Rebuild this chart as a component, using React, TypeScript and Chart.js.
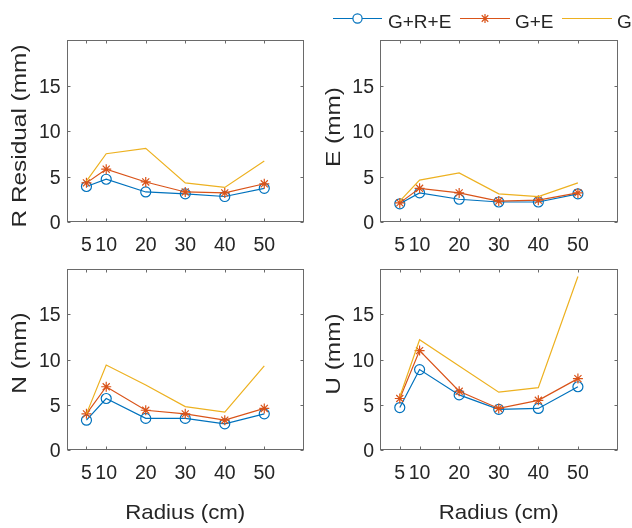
import React, { useEffect, useRef } from "react";
import { Chart, registerables } from "chart.js";

Chart.register(...registerables);

// Radius of each test circle (cm) and the axis ticks
const radius = [5, 10, 20, 30, 40, 50];
const xTicks = [5, 10, 20, 30, 40, 50];
const yTicks = [0, 5, 10, 15];
const seriesNames = ["G+R+E", "G+E", "G"];

// R residual (mm)
const residualGRE = [3.9, 4.7, 3.3, 3.1, 2.8, 3.7];
const residualGE = [4.3, 5.8, 4.4, 3.3, 3.2, 4.2];
const residualG = [4.5, 7.5, 8.1, 4.3, 3.8, 6.7];

// East component (mm)
const eastGRE = [2.0, 3.2, 2.5, 2.2, 2.2, 3.1];
const eastGE = [2.1, 3.7, 3.2, 2.3, 2.4, 3.2];
const eastG = [2.3, 4.6, 5.4, 3.1, 2.8, 4.3];

// North component (mm)
const northGRE = [3.3, 5.7, 3.5, 3.5, 2.9, 4.0];
const northGE = [4.0, 7.0, 4.4, 4.0, 3.3, 4.6];
const northG = [4.0, 9.4, 7.2, 4.8, 4.2, 9.3];

// Up component (mm)
const upGRE = [4.7, 8.9, 6.1, 4.5, 4.6, 7.0];
const upGE = [5.7, 11.0, 6.5, 4.6, 5.5, 7.9];
const upG = [5.9, 12.2, 9.3, 6.4, 6.9, 19.2];

const W = 632;
const H = 528;
const BLUE = "#0072BD";
const ORANGE = "#D95319";
const YELLOW = "#EDB120";
const INK = "#262626";
const FRAME = "#6a6a6a";
const FONT = '"Liberation Sans", Arial, Helvetica, sans-serif';

type Panel = {
  yTitle: string;
  gre: number[];
  ge: number[];
  g: number[];
  area: { l: number; t: number; r: number; b: number };
  titleX: number;
  titleY: number;
  xTitle: boolean;
  legend: boolean;
};

const panels: Panel[] = [
  { yTitle: "R Residual (mm)", gre: residualGRE, ge: residualGE, g: residualG,
    area: { l: 66.7, t: 40, r: 303.8, b: 222 }, titleX: 26, titleY: 136, xTitle: false, legend: false },
  { yTitle: "E (mm)", gre: eastGRE, ge: eastGE, g: eastG,
    area: { l: 380, t: 40, r: 617.5, b: 222 }, titleX: 339.5, titleY: 127, xTitle: false, legend: true },
  { yTitle: "N (mm)", gre: northGRE, ge: northGE, g: northG,
    area: { l: 66.7, t: 269.3, r: 303.8, b: 450 }, titleX: 25.5, titleY: 353, xTitle: true, legend: false },
  { yTitle: "U (mm)", gre: upGRE, ge: upGE, g: upG,
    area: { l: 380, t: 269.3, r: 617.5, b: 450 }, titleX: 339.5, titleY: 354, xTitle: true, legend: false },
];

function drawText(ctx: CanvasRenderingContext2D, text: string, x: number, y: number,
                  size: number, sx: number, rot: number, align: CanvasTextAlign) {
  ctx.save();
  ctx.translate(x, y);
  ctx.rotate(rot);
  ctx.scale(sx, 1);
  ctx.font = `${size}px ${FONT}`;
  ctx.fillStyle = INK;
  ctx.textAlign = align;
  ctx.textBaseline = "alphabetic";
  ctx.fillText(text, 0, 0);
  ctx.restore();
}

function drawStar(ctx: CanvasRenderingContext2D, x: number, y: number, r: number) {
  ctx.beginPath();
  for (let i = 0; i < 4; i++) {
    const a = (i * Math.PI) / 4;
    ctx.moveTo(x - r * Math.cos(a), y - r * Math.sin(a));
    ctx.lineTo(x + r * Math.cos(a), y + r * Math.sin(a));
  }
  ctx.stroke();
}

// Box, inward ticks, tick labels, axis titles and the shared legend
const axesDecor = {
  id: "axesDecor",
  afterDraw(chart: any, _args: any, opts: any) {
    const p: Panel = opts.panel;
    const ctx: CanvasRenderingContext2D = chart.ctx;
    const xs = chart.scales.x;
    const ys = chart.scales.y;
    const { left, right, top, bottom } = chart.chartArea;
    const L = Math.round(left) + 0.5;
    const R = Math.round(right) - 0.5;
    const T = Math.round(top) + 0.5;
    const B = Math.round(bottom) - 0.5;
    const tl = 3;

    ctx.save();
    ctx.strokeStyle = FRAME;
    ctx.lineWidth = 1;
    ctx.strokeRect(L, T, R - L, B - T);
    ctx.beginPath();
    xTicks.forEach((v) => {
      const px = Math.round(xs.getPixelForValue(v)) + 0.5;
      ctx.moveTo(px, B); ctx.lineTo(px, B - tl);
      ctx.moveTo(px, T); ctx.lineTo(px, T + tl);
    });
    yTicks.forEach((v) => {
      const py = Math.round(ys.getPixelForValue(v)) + 0.5;
      ctx.moveTo(L, py); ctx.lineTo(L + tl, py);
      ctx.moveTo(R, py); ctx.lineTo(R - tl, py);
    });
    ctx.stroke();
    ctx.restore();

    const tickSize = 19.5;
    xTicks.forEach((v) => {
      drawText(ctx, String(v), xs.getPixelForValue(v), bottom + 29, tickSize, 1, 0, "center");
    });
    yTicks.forEach((v) => {
      drawText(ctx, String(v), left - 6, ys.getPixelForValue(v) + 7, tickSize, 1, 0, "right");
    });

    drawText(ctx, p.yTitle, p.titleX, p.titleY, 20, 1.22, -Math.PI / 2, "center");
    if (p.xTitle) {
      drawText(ctx, "Radius (cm)", (left + right) / 2, 519, 21, 1.06, 0, "center");
    }

    if (p.legend) {
      const ly = 18.5;
      const items = [
        { x0: 333, x1: 382, color: BLUE, mark: "circle", tx: 388 },
        { x0: 460, x1: 510, color: ORANGE, mark: "star", tx: 515 },
        { x0: 562, x1: 612, color: YELLOW, mark: "none", tx: 617 },
      ];
      items.forEach((it, i) => {
        ctx.save();
        ctx.strokeStyle = it.color;
        ctx.lineWidth = 1.2;
        ctx.beginPath();
        ctx.moveTo(it.x0, ly); ctx.lineTo(it.x1, ly);
        ctx.stroke();
        const cx = (it.x0 + it.x1) / 2;
        if (it.mark === "circle") {
          ctx.beginPath();
          ctx.fillStyle = "#ffffff";
          ctx.arc(cx, ly, 4.6, 0, Math.PI * 2);
          ctx.fill();
          ctx.stroke();
        } else if (it.mark === "star") {
          drawStar(ctx, cx, ly, 4.6);
        }
        ctx.restore();
        drawText(ctx, seriesNames[i], it.tx, 27.5, 19, 1, 0, "left");
      });
    }
  },
};

function PanelChart({ panel }: { panel: Panel }) {
  const ref = useRef<HTMLCanvasElement | null>(null);

  useEffect(() => {
    if (!ref.current) return;
    const pts = (vals: number[]) => radius.map((r, i) => ({ x: r, y: vals[i] }));
    const chart = new Chart(ref.current, {
      type: "line",
      data: {
        datasets: [
          {
            label: seriesNames[0], data: pts(panel.gre), borderColor: BLUE, borderWidth: 1.2,
            pointStyle: "circle", pointRadius: 5, pointBorderWidth: 1.2,
            pointBorderColor: BLUE, pointBackgroundColor: "rgba(0,0,0,0)", order: 2,
          },
          {
            label: seriesNames[1], data: pts(panel.ge), borderColor: ORANGE, borderWidth: 1.2,
            pointStyle: "star", pointRadius: 5, pointBorderWidth: 1.2,
            pointBorderColor: ORANGE, pointBackgroundColor: ORANGE, order: 1,
          },
          {
            label: seriesNames[2], data: pts(panel.g), borderColor: YELLOW, borderWidth: 1.2,
            pointRadius: 0, order: 0,
          },
        ],
      },
      options: {
        responsive: false,
        animation: false,
        events: [],
        layout: {
          padding: {
            left: panel.area.l,
            top: panel.area.t,
            right: W - panel.area.r,
            bottom: H - panel.area.b,
          },
        },
        scales: {
          x: { type: "linear", min: 0, max: 60, display: false },
          y: { type: "linear", min: 0, max: 20, display: false },
        },
        plugins: {
          legend: { display: false },
          tooltip: { enabled: false },
          axesDecor: { panel },
        } as any,
        elements: { line: { tension: 0 } },
      },
      plugins: [axesDecor as any],
    });
    return () => chart.destroy();
  }, [panel]);

  return (
    <canvas
      ref={ref}
      width={W}
      height={H}
      style={{ position: "absolute", left: 0, top: 0, width: W, height: H }}
    />
  );
}

export default function App() {
  return (
    <div style={{ position: "absolute", left: 0, top: 0, width: W, height: H, background: "#ffffff" }}>
      {panels.map((p) => (
        <PanelChart key={p.yTitle} panel={p} />
      ))}
    </div>
  );
}
